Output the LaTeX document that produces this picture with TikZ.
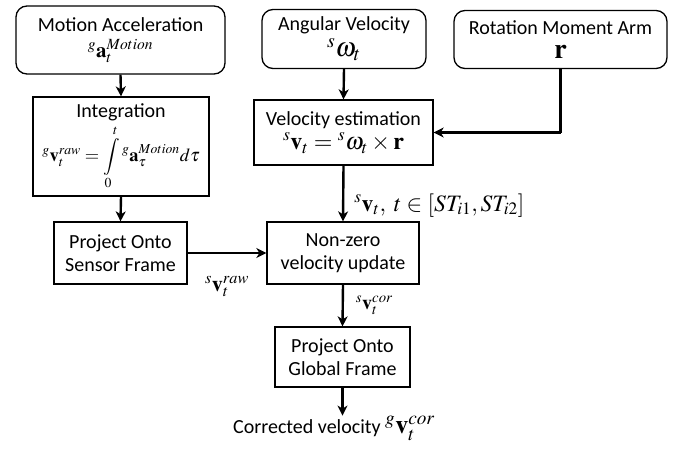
\documentclass[tikz,border=0pt]{standalone}
\usepackage{mathptmx}
\usepackage[no-math]{fontspec}
\setmainfont{Carlito}
\usetikzlibrary{arrows.meta}
\tikzset{
  box/.style={draw=black, line width=1.3pt, fill=white, align=center, inner sep=0pt,
    font=\fontsize{20}{23}\selectfont},
  rbox/.style={box, rounded corners=11pt},
  arr/.style={line width=2.4pt, -{Stealth[length=10pt,width=10pt,inset=3pt]}},
  lab/.style={inner sep=0pt}
}
\newcommand{\msz}[1]{\fontsize{#1}{#1}\selectfont}
\begin{document}
\begin{tikzpicture}[x=1pt,y=-1pt]
\useasboundingbox (0,0) rectangle (688,450);
\node[rbox, minimum width=209pt, minimum height=68pt] (ma) at (120.5,40)
  {Motion Acceleration\\[3pt] {\msz{21}$^{g}\mathbf{a}_t^{Motion}$}};
\node[rbox, minimum width=164pt, minimum height=59pt] (av) at (344,39)
  {Angular Velocity\\[3pt] {\msz{27}$^{s}\omega_t$}};
\node[rbox, minimum width=213pt, minimum height=58pt] (rm) at (560.5,39.5)
  {Rotation Moment Arm\\[1pt] {\msz{28}$\mathbf{r}$}};
\node[box, minimum width=176pt, minimum height=99pt] (in) at (121,146.5)
  {Integration\\[4pt] {\msz{18.5}$^{g}\mathbf{v}_t^{raw}=\displaystyle\int\limits_0^t {}^{g}\mathbf{a}_\tau^{Motion}d\tau$}};
\node[box, minimum width=179pt, minimum height=65pt] (ve) at (343.5,132.5)
  {Velocity estimation\\[1pt] {\msz{24}$^{s}\mathbf{v}_t={}^{s}\omega_t\times\mathbf{r}$}};
\node[box, minimum width=133pt, minimum height=62pt] (ps) at (120.5,253)
  {Project Onto\\Sensor Frame};
\node[box, minimum width=152pt, minimum height=62pt] (nz) at (343,253)
  {Non-zero\\velocity update};
\node[box, minimum width=135pt, minimum height=60pt] (pg) at (342.5,357)
  {Project Onto\\Global Frame};
\node[lab, font=\fontsize{20}{23}\selectfont] (cv) at (334,428)
  {Corrected velocity {\msz{26}$^{g}\mathbf{v}_t^{cor}$}};
\coordinate (corner) at (rm.south |- ve.east);
\draw[arr] (ma.south) -- (in.north);
\draw[arr] (in.south) -- (ps.north);
\draw[arr] (av.south) -- (ve.north);
\draw[line width=2.4pt] (rm.south) -- (corner);
\draw[arr] (corner) -- (ve.east);
\draw[arr] (ve.south) -- node[lab, right=10pt, yshift=-12pt] {\msz{23.5}$^{s}\mathbf{v}_t,\ t\in[ST_{i1},ST_{i2}]$} (nz.north);
\draw[arr] (ps.east) -- node[lab, below=22pt] {\msz{22}$^{s}\mathbf{v}_t^{raw}$} (nz.west);
\draw[arr] (nz.south) -- node[lab, right=12pt] {\msz{20}$^{s}\mathbf{v}_t^{cor}$} (pg.north);
\draw[arr] (pg.south) -- (pg.south |- cv.north);
\end{tikzpicture}
\end{document}
